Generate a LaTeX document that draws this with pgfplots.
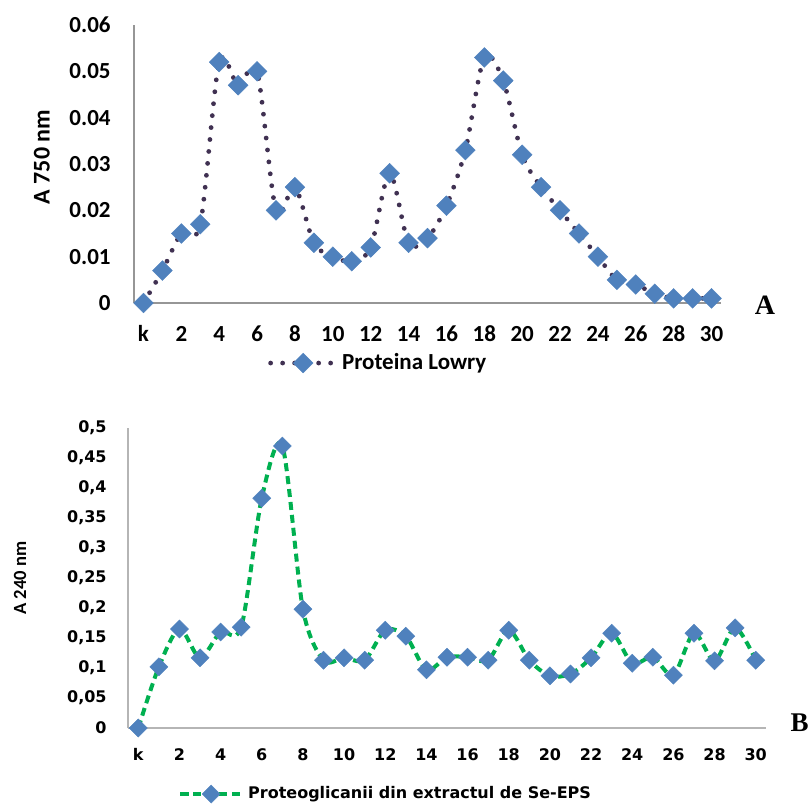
\documentclass[border=0pt]{standalone}
\usepackage{fontspec}
\setmainfont{Carlito}
\newfontfamily\dvs{DejaVu Sans}
\newfontfamily\lser{Liberation Serif}
\usepackage{pgfplots}
\pgfplotsset{compat=1.18}

\definecolor{mblue}{HTML}{4F81BD}
\definecolor{dpurple}{HTML}{403152}
\definecolor{xlgreen}{HTML}{00B050}
\definecolor{axgray}{HTML}{969696}

\pgfplotstableread{
x y
0 0
1 0.007
2 0.015
3 0.017
4 0.052
5 0.047
6 0.050
7 0.020
8 0.025
9 0.013
10 0.010
11 0.009
12 0.012
13 0.028
14 0.013
15 0.014
16 0.021
17 0.033
18 0.053
19 0.048
20 0.032
21 0.025
22 0.020
23 0.015
24 0.010
25 0.005
26 0.004
27 0.002
28 0.001
29 0.001
30 0.001
}\lowry

\pgfplotstableread{
x y
0 0
1 0.102
2 0.165
3 0.117
4 0.160
5 0.168
6 0.383
7 0.470
8 0.198
9 0.113
10 0.117
11 0.113
12 0.163
13 0.153
14 0.097
15 0.118
16 0.118
17 0.113
18 0.163
19 0.113
20 0.087
21 0.090
22 0.117
23 0.158
24 0.108
25 0.118
26 0.088
27 0.158
28 0.112
29 0.167
30 0.113
}\proteo

\pgfplotsset{
  common/.style={
    scale only axis, clip=false,
    xmin=-0.5, xmax=30.5, ymin=0,
    scaled y ticks=false,
    axis x line=bottom, axis y line=left,
    axis line style={-, draw=axgray, line width=0.6pt},
    major tick length=0pt,
    xtick={0,2,...,30},
    xticklabels={k,2,4,6,8,10,12,14,16,18,20,22,24,26,28,30},
    legend cell align=left,
  },
}

\begin{document}
\begin{tikzpicture}
\useasboundingbox (0,0) rectangle (405pt,-402pt);

% --- panel A ---
\begin{axis}[common,
  at={(67pt,-151.5pt)}, anchor=south west,
  width=293.5pt, height=139pt,
  ymax=0.06, ytick={0,0.01,...,0.06},
  yticklabels={0,0.01,0.02,0.03,0.04,0.05,0.06},
  tick label style={font=\bfseries\fontsize{11.5}{12}\selectfont},
  yticklabel style={anchor=east, inner sep=0pt, xshift=-11.5pt},
  xticklabel style={anchor=base, inner sep=0pt, yshift=-19pt},
  ylabel={A 750 nm},
  every axis y label/.style={at={(axis description cs:-0.157,0.525)}, rotate=90, anchor=center,
    font=\bfseries\fontsize{12}{13}\selectfont},
  legend style={draw=none, fill=none, at={(axis description cs:0.228,-0.216)}, anchor=west,
    inner sep=0pt, font=\bfseries\fontsize{11.5}{12}\selectfont},
  legend image code/.code={\draw[mark repeat=2,mark phase=2,#1] plot coordinates {(0pt,0pt) (16.25pt,0pt) (32.5pt,0pt)};},
]
\addplot[smooth, color=dpurple, line width=2.4pt, line cap=round, dash pattern=on 0pt off 6pt,
  mark=square*, mark size=3.5pt, mark options={rotate=45, solid, fill=mblue, draw=mblue, line width=0.2pt}]
  table[x=x,y=y] {\lowry};
\addlegendentry{Proteina Lowry}
\end{axis}
\node[font=\lser\bfseries\fontsize{14}{15}\selectfont, anchor=center] at (382.5pt,-152.5pt) {A};

% --- panel B ---
\begin{axis}[common,
  at={(64pt,-364pt)}, anchor=south west,
  width=319pt, height=150pt,
  ymax=0.5, ytick={0,0.05,...,0.5},
  yticklabels={0,{0,05},{0,1},{0,15},{0,2},{0,25},{0,3},{0,35},{0,4},{0,45},{0,5}},
  axis line style={-, draw=axgray!70, line width=0.6pt},
  tick label style={font=\dvs\bfseries\fontsize{8}{9}\selectfont},
  yticklabel style={anchor=east, inner sep=0pt, xshift=-10.5pt},
  xticklabel style={anchor=base, inner sep=0pt, yshift=-16pt},
  ylabel={A 240 nm},
  every axis y label/.style={at={(axis description cs:-0.169,0.5)}, rotate=90, anchor=center,
    font=\bfseries\fontsize{9.3}{10}\selectfont},
  legend style={draw=none, fill=none, at={(axis description cs:0.078,-0.22)}, anchor=west,
    inner sep=0pt, font=\dvs\bfseries\fontsize{8}{9}\selectfont},
  legend image code/.code={\draw[mark repeat=2,mark phase=2,#1] plot coordinates {(0pt,0pt) (15.5pt,0pt) (31pt,0pt)};},
]
\addplot[smooth, color=xlgreen, line width=2pt, dash pattern=on 4pt off 2.5pt,
  mark=square*, mark size=3.2pt, mark options={rotate=45, solid, fill=mblue, draw=mblue, line width=0.2pt}]
  table[x=x,y=y] {\proteo};
\addlegendentry{Proteoglicanii din extractul de Se-EPS}
\end{axis}
\node[font=\lser\bfseries\fontsize{13.5}{15}\selectfont, anchor=east, inner sep=0pt] at (404.5pt,-361.5pt) {B};
\end{tikzpicture}
\end{document}
